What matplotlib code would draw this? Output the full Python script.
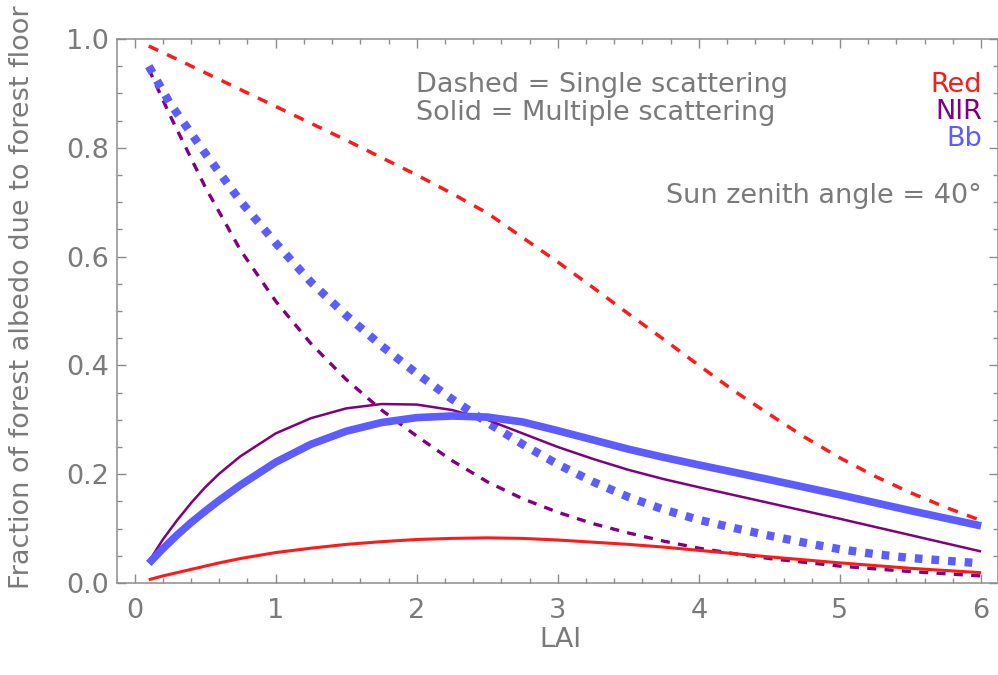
import matplotlib
matplotlib.use("Agg")
import matplotlib.pyplot as plt
from matplotlib.ticker import MultipleLocator

# ---------------- data ----------------
lai_single = [0.1, 0.25, 0.5, 0.75, 1.0, 1.25, 1.5, 1.75, 2.0, 2.25, 2.5, 2.75, 3.0, 3.25, 3.5,
              3.75, 4.0, 4.25, 4.5, 4.75, 5.0, 5.25, 5.5, 5.75, 6.0]
red_single = [0.987, 0.969, 0.938, 0.907, 0.876, 0.845, 0.814, 0.782, 0.75, 0.716, 0.68, 0.635,
              0.59, 0.543, 0.495, 0.448, 0.40, 0.353, 0.31, 0.268, 0.23, 0.196, 0.166, 0.139, 0.115]
nir_single = [0.945, 0.86, 0.728, 0.612, 0.518, 0.44, 0.374, 0.318, 0.27, 0.225, 0.186, 0.155,
              0.13, 0.109, 0.092, 0.077, 0.064, 0.054, 0.045, 0.038, 0.031, 0.026, 0.021, 0.017, 0.013]
bb_single = [0.95, 0.882, 0.79, 0.702, 0.625, 0.553, 0.492, 0.436, 0.385, 0.338, 0.295, 0.255,
             0.218, 0.186, 0.158, 0.135, 0.116, 0.101, 0.087, 0.074, 0.062, 0.053, 0.046, 0.041, 0.036]

lai_multi = [0.1, 0.2, 0.3, 0.4, 0.5, 0.6, 0.75, 1.0, 1.25, 1.5, 1.75, 2.0, 2.25, 2.5, 2.75, 3.0,
             3.25, 3.5, 3.75, 4.0, 4.5, 5.0, 5.5, 6.0]
red_multi = [0.006, 0.013, 0.019, 0.025, 0.031, 0.037, 0.045, 0.056, 0.064, 0.071, 0.076, 0.080,
             0.082, 0.083, 0.082, 0.079, 0.075, 0.071, 0.066, 0.060, 0.048, 0.037, 0.027, 0.019]
nir_multi = [0.039, 0.08, 0.115, 0.147, 0.176, 0.201, 0.233, 0.275, 0.303, 0.321, 0.329, 0.328,
             0.318, 0.30, 0.275, 0.25, 0.228, 0.208, 0.191, 0.176, 0.147, 0.118, 0.088, 0.058]
bb_multi = [0.036, 0.063, 0.088, 0.111, 0.132, 0.152, 0.18, 0.222, 0.255, 0.279, 0.295, 0.304,
            0.307, 0.305, 0.296, 0.28, 0.263, 0.246, 0.231, 0.217, 0.19, 0.162, 0.133, 0.105]

x_ticks = [0, 1, 2, 3, 4, 5, 6]
y_ticks = [0.0, 0.2, 0.4, 0.6, 0.8, 1.0]

# ---------------- style ----------------
W, H = 998, 675
plt.rcParams['font.family'] = ['DejaVu Sans']
plt.rcParams['lines.scale_dashes'] = False
GRAY = '#7a7a7a'
SPINE = '#8c8c8c'
RED = '#ff1a1a'
PURPLE = '#800080'
BLUE = '#5c5cff'
FS = 19.5

fig = plt.figure(figsize=(W / 100, H / 100), dpi=100)
L, R, T, B = 117, 998, 39, 583
ax = fig.add_axes([L / W, 1 - B / H, (R - L) / W, (B - T) / H])

ax.plot(lai_single, red_single, color=RED, lw=2.5, ls=(0, (7.5, 7)), dash_capstyle='butt')
ax.plot(lai_single, nir_single, color=PURPLE, lw=2.4, ls=(0, (6.5, 6)), dash_capstyle='butt')
ax.plot(lai_single, bb_single, color=BLUE, lw=6.0, ls=(0, (5.5, 6.5)), dash_capstyle='butt')

ax.plot(lai_multi, red_multi, color=RED, lw=2.2, solid_capstyle='butt')
ax.plot(lai_multi, nir_multi, color=PURPLE, lw=1.8, solid_capstyle='butt')
ax.plot(lai_multi, bb_multi, color=BLUE, lw=5.5, solid_capstyle='butt')

ax.set_xlim(-0.125, 6.12)
ax.set_ylim(0, 1.0)
ax.set_xticks(x_ticks)
ax.set_yticks(y_ticks)
ax.set_xticklabels([str(v) for v in x_ticks])
ax.set_yticklabels([f"{v:.1f}" for v in y_ticks])
ax.xaxis.set_minor_locator(MultipleLocator(0.2))
ax.yaxis.set_minor_locator(MultipleLocator(0.05))
ax.tick_params(which='both', direction='in', top=True, right=True, color=SPINE, width=1.0,
               labelcolor=GRAY, labelsize=FS)
ax.tick_params(which='major', length=6.5)
ax.tick_params(which='minor', length=3.6)
ax.tick_params(axis='x', pad=11)
ax.tick_params(axis='y', pad=6)
for s in ax.spines.values():
    s.set_color(SPINE)
    s.set_linewidth(1.1)


def ftext(x, y, s, **kw):
    fig.text(x / W, 1 - y / H, s, fontsize=FS, **kw)


ftext(560, 647, 'LAI', color=GRAY, ha='center', va='baseline')
ftext(22, 297, 'Fraction of forest albedo due to forest floor', color=GRAY,
      ha='center', va='center', rotation=90)

ftext(416, 92, 'Dashed = Single scattering', color=GRAY, ha='left', va='baseline')
ftext(416, 120, 'Solid = Multiple scattering', color=GRAY, ha='left', va='baseline')
ftext(982, 92, 'Red', color=RED, ha='right', va='baseline')
ftext(982, 119, 'NIR', color=PURPLE, ha='right', va='baseline')
ftext(982, 146, 'Bb', color=BLUE, ha='right', va='baseline')
ftext(982, 203, 'Sun zenith angle = 40°', color=GRAY, ha='right', va='baseline')

fig.savefig('out.png', dpi=100)
